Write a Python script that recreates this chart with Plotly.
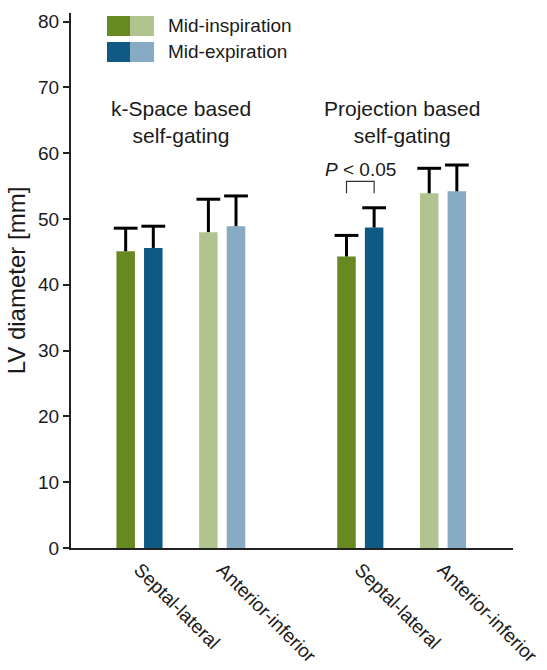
import plotly.graph_objects as go

# ---- data ----
groups = ["k-Space based<br>self-gating", "Projection based<br>self-gating"]
categories = ["Septal-lateral", "Anterior-inferior", "Septal-lateral", "Anterior-inferior"]
insp_mean = [45.1, 48.0, 44.3, 53.9]
insp_sd = [3.5, 5.0, 3.2, 3.8]
exp_mean = [45.6, 48.9, 48.7, 54.2]
exp_sd = [3.3, 4.6, 3.0, 4.0]
y_ticks = [0, 10, 20, 30, 40, 50, 60, 70, 80]
sig_label = "<i>P</i> < 0.05"

# ---- styles ----
insp_colors = ["#678a20", "#b1c490", "#678a20", "#b1c490"]
exp_colors = ["#0f5a84", "#86abc3", "#0f5a84", "#86abc3"]
FONT = "Liberation Sans, Arial, sans-serif"
TXT = "#1a1a1a"

group_gap = 0.67
xpos = [1 + i + (i // 2) * group_gap for i in range(len(categories))]
bargap = 0.332
bargroupgap = 0.33
slot = (1 - bargap) / 2

W, H = 547, 670
ML, MR, MT, MB = 71, 34, 13, 122
pw, ph = W - ML - MR, H - MT - MB


def px(x):
    return (x - ML) / pw


def py(y):
    return (H - MB - y) / ph


fig = go.Figure()
series = [
    ("Mid-inspiration", insp_mean, insp_sd, insp_colors, -1),
    ("Mid-expiration", exp_mean, exp_sd, exp_colors, 1),
]
for name, mean, sd, colors, side in series:
    fig.add_trace(go.Bar(
        x=xpos, y=mean, name=name,
        marker=dict(color=colors, line=dict(width=0)),
        showlegend=False, hoverinfo="skip",
    ))

# error bars (upper only) drawn through the data axes
for name, mean, sd, colors, side in series:
    cx = [x + side * slot / 2 for x in xpos]
    sx, sy = [], []
    for c, m, s in zip(cx, mean, sd):
        sx += [c, c, None]
        sy += [m, m + s, None]
    fig.add_trace(go.Scatter(x=sx, y=sy, mode="lines", line=dict(color="black", width=3),
                             showlegend=False, hoverinfo="skip"))
    fig.add_trace(go.Scatter(x=cx, y=[m + s for m, s in zip(mean, sd)], mode="markers",
                             marker=dict(symbol="line-ew", size=17,
                                         line=dict(color="black", width=3)),
                             showlegend=False, hoverinfo="skip"))

shapes = []
annotations = []

# legend swatches
for row, (c1, c2, label) in enumerate([
    (insp_colors[0], insp_colors[1], "Mid-inspiration"),
    (exp_colors[0], exp_colors[1], "Mid-expiration"),
]):
    y0p = 16 + row * 26
    y1p = y0p + 20
    shapes.append(dict(type="rect", xref="paper", yref="paper", x0=px(107), x1=px(130.5),
                       y0=py(y1p), y1=py(y0p), fillcolor=c1, line=dict(width=0)))
    shapes.append(dict(type="rect", xref="paper", yref="paper", x0=px(130.5), x1=px(154),
                       y0=py(y1p), y1=py(y0p), fillcolor=c2, line=dict(width=0)))
    annotations.append(dict(xref="paper", yref="paper", x=px(166), y=py((y0p + y1p) / 2),
                            text=label, showarrow=False, xanchor="left", yanchor="middle",
                            font=dict(family=FONT, size=19, color=TXT)))

# group titles
for g, title in enumerate(groups):
    cx = (xpos[2 * g] + xpos[2 * g + 1]) / 2
    annotations.append(dict(x=cx, y=64.8, xref="x", yref="y", text=title, showarrow=False,
                            xanchor="center", yanchor="middle",
                            font=dict(family=FONT, size=21, color=TXT)))

# significance bracket
xa = xpos[2] - slot / 2
xb = xpos[2] + slot / 2
shapes.append(dict(type="path", xref="x", yref="y",
                   path=f"M {xa},53.9 L {xa},55.7 L {xb},55.7 L {xb},53.9",
                   line=dict(color="#333333", width=1.2)))
annotations.append(dict(x=xpos[2], y=57.5, xref="x", yref="y", text=sig_label, showarrow=False,
                        xanchor="center", yanchor="middle",
                        font=dict(family=FONT, size=19, color=TXT)))

fig.update_layout(
    width=W, height=H,
    margin=dict(l=ML, r=MR, t=MT, b=MB),
    paper_bgcolor="white", plot_bgcolor="white",
    barmode="group", bargap=bargap, bargroupgap=bargroupgap,
    shapes=shapes, annotations=annotations,
    font=dict(family=FONT, color=TXT),
    xaxis=dict(
        range=[0.172, 5.516], tickmode="array", tickvals=xpos, ticktext=categories,
        tickangle=45, ticks="", showline=True, linecolor="#222222", linewidth=2,
        showgrid=False, zeroline=False, tickfont=dict(family=FONT, size=19, color=TXT),
        ticklabelstandoff=1, automargin=False,
    ),
    yaxis=dict(
        range=[0, 81.3], tickmode="array", tickvals=y_ticks, ticks="outside", ticklen=6,
        tickwidth=1.5, tickcolor="#222222",
        showline=True, linecolor="#222222", linewidth=2, showgrid=False, zeroline=False,
        tickfont=dict(family=FONT, size=19, color=TXT), automargin=False,
        title=dict(text="LV diameter [mm]", font=dict(family=FONT, size=24, color=TXT), standoff=6),
    ),
)

fig.write_html("out.html")
